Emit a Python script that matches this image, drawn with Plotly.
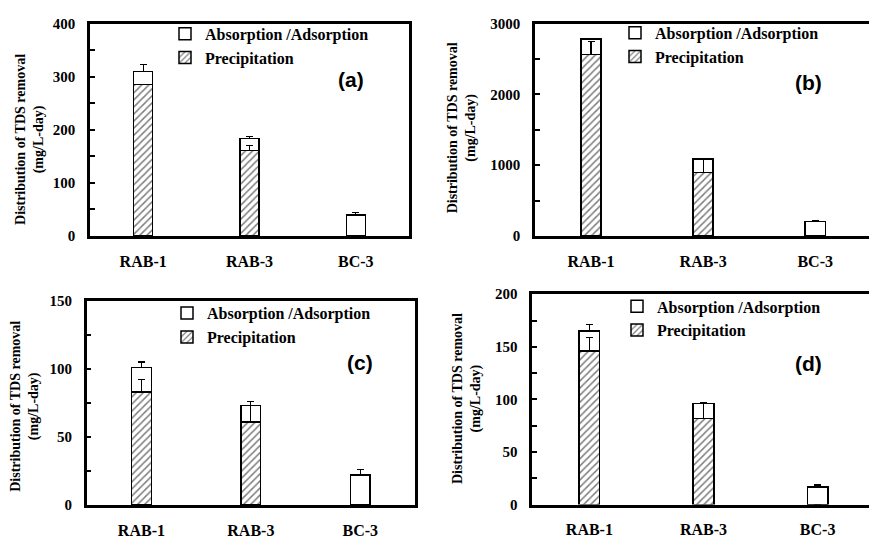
import plotly.graph_objects as go

W, H = 869, 539

categories = ["RAB-1", "RAB-3", "BC-3"]

# Panel (a)
a_precip = [285, 161, 0]
a_absorb = [25, 23, 40]
a_precip_err = [None, 10, None]
a_total_err = [13, 4, 5]
a_ymax, a_dtick = 400, 100

# Panel (b)
b_precip = [2560, 895, 0]
b_absorb = [220, 195, 205]
b_precip_err = [190, 200, None]
b_total_err = [None, 10, 10]
b_ymax, b_dtick = 3000, 1000

# Panel (c)
c_precip = [83, 61, 0]
c_absorb = [18, 12, 22]
c_precip_err = [9, 12, None]
c_total_err = [4, 3, 4]
c_ymax, c_dtick = 150, 50

# Panel (d)
d_precip = [146, 82, 0]
d_absorb = [19, 14, 16.5]
d_precip_err = [13, 14, None]
d_total_err = [6, 1, 2]
d_ymax, d_dtick = 200, 50

legend_names = ["Absorption /Adsorption", "Precipitation"]
panel_labels = ["(a)", "(b)", "(c)", "(d)"]
ytitle = "Distribution of TDS removal<br>(mg/L-day)"

SERIF = "Liberation Serif, Times New Roman, serif"
SANS = "Liberation Sans, Arial, sans-serif"

panels = [
    dict(precip=a_precip, absorb=a_absorb, perr=a_precip_err, terr=a_total_err, ymax=a_ymax, dtick=a_dtick,
         px=(90, 409), py=(16, 235), xr=None, mirror_y=True,
         leg=(165, 9), lab=(351, 74), tit=(30, 136)),
    dict(precip=b_precip, absorb=b_absorb, perr=b_precip_err, terr=b_total_err, ymax=b_ymax, dtick=b_dtick,
         px=(535, 869), py=(16, 235), xr=[-0.5, 2.48], mirror_y=False,
         leg=(615, 8), lab=(808, 77), tit=(462, 123)),
    dict(precip=c_precip, absorb=c_absorb, perr=c_precip_err, terr=c_total_err, ymax=c_ymax, dtick=c_dtick,
         px=(86.7, 415), py=(301.7, 512.3), xr=None, mirror_y=True,
         leg=(167, 297), lab=(360, 365), tit=(25, 411)),
    dict(precip=d_precip, absorb=d_absorb, perr=d_precip_err, terr=d_total_err, ymax=d_ymax, dtick=d_dtick,
         px=(532.3, 869), py=(295, 511.7), xr=[-0.5, 2.45], mirror_y=False,
         leg=(617, 290), lab=(808, 366), tit=(467, 403)),
]

fig = go.Figure()
layout = dict(width=W, height=H, margin=dict(l=0, r=0, t=0, b=0),
              paper_bgcolor="white", plot_bgcolor="white",
              font=dict(family=SERIF, color="black", weight="bold"),
              barmode="stack", showlegend=True, annotations=[])

for i, p in enumerate(panels, start=1):
    xa = "x" if i == 1 else f"x{i}"
    ya = "y" if i == 1 else f"y{i}"
    lg = "legend" if i == 1 else f"legend{i}"
    fig.add_trace(go.Bar(
        x=categories, y=p["precip"], xaxis=xa, yaxis=ya, name="<b>" + legend_names[1] + "</b>",
        legend=lg, legendrank=2, width=0.18,
        marker=dict(color="white",
                    pattern=dict(shape="/", fgcolor="black", bgcolor="white", size=5, solidity=0.3),
                    line=dict(color="black", width=1.5)),
        error_y=dict(type="data", array=p["perr"], arrayminus=[0, 0, 0], symmetric=False,
                     color="black", thickness=1.2, width=3.5),
    ))
    fig.add_trace(go.Bar(
        x=categories, y=p["absorb"], xaxis=xa, yaxis=ya, name="<b>" + legend_names[0] + "</b>",
        legend=lg, legendrank=1, width=0.18,
        marker=dict(color="rgba(255,255,255,0)", line=dict(color="black", width=1.5)),
        error_y=dict(type="data", array=p["terr"], arrayminus=[0, 0, 0], symmetric=False,
                     color="black", thickness=1.2, width=3.5),
    ))
    xdom = [p["px"][0] / W, min(1.0, p["px"][1] / W)]
    ydom = [1 - p["py"][1] / H, 1 - p["py"][0] / H]
    xkey = "xaxis" if i == 1 else f"xaxis{i}"
    ykey = "yaxis" if i == 1 else f"yaxis{i}"
    xax = dict(domain=xdom, anchor=ya, showline=True, linecolor="black", linewidth=2.5,
               mirror=True, ticks="", showgrid=False, zeroline=False,
               tickprefix="<b>", ticksuffix="</b>",
               tickfont=dict(family=SERIF, size=16, color="black", weight="bold"),
               ticklabelstandoff=9, fixedrange=True)
    if p["xr"] is not None:
        xax["range"] = p["xr"]
    layout[xkey] = xax
    layout[ykey] = dict(domain=ydom, anchor=xa, range=[0, p["ymax"]], dtick=p["dtick"],
                        showline=True, linecolor="black", linewidth=2.5, mirror=p["mirror_y"],
                        ticks="inside", ticklen=5, tickwidth=1.5, tickcolor="black",
                        minor=dict(dtick=p["dtick"] / 2, ticks="inside", ticklen=5, tickwidth=1.5,
                                   tickcolor="black", showgrid=False),
                        showgrid=False, zeroline=False,
                        tickprefix="<b>", ticksuffix="</b>",
                        tickfont=dict(family=SERIF, size=15, color="black", weight="bold"),
                        ticklabelstandoff=9, fixedrange=True)
    layout[lg] = dict(x=p["leg"][0] / W, y=1 - p["leg"][1] / H, xanchor="left", yanchor="top",
                      bgcolor="rgba(0,0,0,0)", borderwidth=0, itemwidth=30, traceorder="normal",
                      font=dict(family=SERIF, size=16, color="black", weight="bold"),
                      tracegroupgap=0)
    layout["annotations"].append(dict(
        text=panel_labels[i - 1], xref="paper", yref="paper",
        x=p["lab"][0] / W, y=1 - p["lab"][1] / H, xanchor="center", yanchor="middle",
        showarrow=False, font=dict(family=SANS, size=21, color="black", weight="bold")))
    layout["annotations"].append(dict(
        text="<b>" + ytitle.replace("<br>", "</b><br><b>") + "</b>", xref="paper", yref="paper",
        textangle=-90,
        x=p["tit"][0] / W, y=1 - p["tit"][1] / H, xanchor="center", yanchor="middle",
        showarrow=False, font=dict(family=SERIF, size=14, color="black", weight="bold")))

fig.update_layout(**layout)
fig.write_html("out.html")
